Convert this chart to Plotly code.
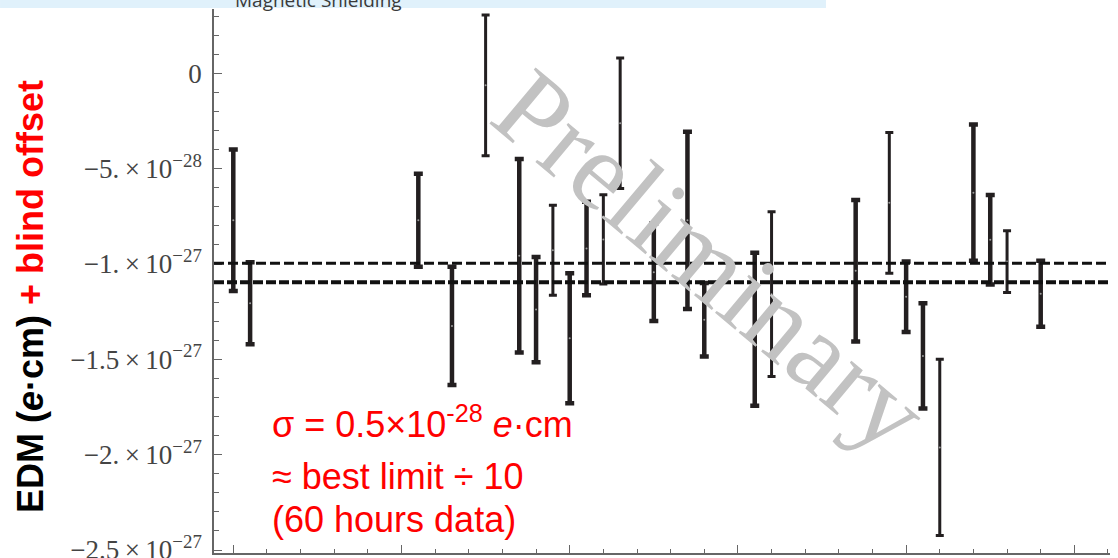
import plotly.graph_objects as go

SCALE = 1e-27  # values below are in units of 1e-27 e·cm

# Group A (heavier bars)
xa = [0, 1, 11, 13, 17, 18, 20, 21, 25, 27, 28, 31, 37, 40, 41, 44, 45, 48]
va = [-0.771, -1.206, -0.771, -1.325, -0.957, -1.239, -1.389, -0.919, -1.043,
      -0.771, -1.292, -1.342, -1.036, -1.172, -1.482, -0.626, -0.873, -1.156]
ea = [0.371, 0.215, 0.244, 0.310, 0.507, 0.276, 0.341, 0.245, 0.256,
      0.465, 0.193, 0.401, 0.371, 0.185, 0.276, 0.357, 0.235, 0.173]

# Group B (lighter bars)
xb = [15, 19, 22, 23, 32, 39, 42, 46]
vb = [-0.063, -0.928, -0.871, -0.262, -1.158, -0.679, -1.962, -0.987]
eb = [0.369, 0.236, 0.234, 0.342, 0.432, 0.369, 0.462, 0.162]

mean_val = -1.046
sigma_val = 0.05

ytick_vals = [0, -0.5, -1.0, -1.5, -2.0, -2.5]
ytick_text = ["0",
              "−5.\u2009×\u200910<sup>−28</sup>",
              "−1.\u2009×\u200910<sup>−27</sup>",
              "−1.5\u2009×\u200910<sup>−27</sup>",
              "−2.\u2009×\u200910<sup>−27</sup>",
              "−2.5\u2009×\u200910<sup>−27</sup>"]

BAR = "#231f20"

fig = go.Figure()
fig.add_trace(go.Scatter(
    x=xa, y=[v * SCALE for v in va], mode="markers",
    marker=dict(size=2, color="#9a9a9a"),
    error_y=dict(type="data", array=[e * SCALE for e in ea], visible=True,
                 thickness=4.5, width=4.5, color=BAR),
    showlegend=False, hoverinfo="skip"))
fig.add_trace(go.Scatter(
    x=xb, y=[v * SCALE for v in vb], mode="markers",
    marker=dict(size=2, color="#9a9a9a"),
    error_y=dict(type="data", array=[e * SCALE for e in eb], visible=True,
                 thickness=3, width=4, color=BAR),
    showlegend=False, hoverinfo="skip"))

# mean ± sigma dashed lines
fig.add_shape(type="line", xref="paper", x0=0, x1=1, yref="y",
              y0=(mean_val + sigma_val) * SCALE, y1=(mean_val + sigma_val) * SCALE,
              line=dict(color="#111111", width=3, dash="10px,4px"))
fig.add_shape(type="line", xref="paper", x0=0, x1=1, yref="y",
              y0=(mean_val - sigma_val) * SCALE, y1=(mean_val - sigma_val) * SCALE,
              line=dict(color="#111111", width=4, dash="10px,3px"))

# top banner (cut-off slide header)
fig.add_shape(type="rect", xref="paper", yref="paper",
              x0=-0.2388, x1=0.683, y0=1.0018, y1=1.03,
              fillcolor="#e0f1fb", line=dict(width=0), layer="above")

fig.add_annotation(text="Magnetic Shielding", xref="paper", yref="paper",
                   x=0.1161, y=1.0165, xanchor="center", yanchor="middle",
                   showarrow=False, font=dict(family="Open Sans", size=19, color="#3a3a3a"))

# watermark
fig.add_annotation(text="Preliminary", xref="paper", yref="paper",
                   x=0.5547, y=0.5368, xanchor="center", yanchor="middle",
                   textangle=40, showarrow=False,
                   font=dict(family="Liberation Serif", size=111, color="#c2c2c2"))

# y-axis title
fig.add_annotation(
    text="<b>EDM (<i>e</i>·cm) <span style='color:#ff0000'>+ blind offset</span></b>",
    xref="paper", yref="paper", x=-0.2042, y=0.4706,
    xanchor="center", yanchor="middle", textangle=-90, showarrow=False,
    font=dict(family="Liberation Sans", size=36, color="#000000"))

# red notes
red_font = dict(family="Liberation Sans", size=36, color="#ff0000")
fig.add_annotation(text="σ = 0.5×10<sup>-28</sup> <i>e</i>·cm", xref="paper", yref="paper",
                   x=0.0625, y=(553 - 422) / 544, xanchor="left", yanchor="middle",
                   showarrow=False, font=red_font)
fig.add_annotation(text="≈ best limit ÷ 10", xref="paper", yref="paper",
                   x=0.0625, y=(553 - 476) / 544, xanchor="left", yanchor="middle",
                   showarrow=False, font=red_font)
fig.add_annotation(text="(60 hours data)", xref="paper", yref="paper",
                   x=0.0625, y=(553 - 519) / 544, xanchor="left", yanchor="middle",
                   showarrow=False, font=red_font)

AX = "#666666"
fig.update_layout(
    width=1118, height=558,
    margin=dict(l=214, r=8, t=9, b=5, autoexpand=False),
    paper_bgcolor="white", plot_bgcolor="white",
    xaxis=dict(range=[-1.147, 52.12], showline=True, linecolor=AX, linewidth=1.5,
               automargin=False,
               ticks="inside", tick0=0, dtick=10, ticklen=8, tickcolor=AX, tickwidth=1.2,
               minor=dict(ticks="inside", tick0=0, dtick=2, ticklen=4, tickcolor=AX, showgrid=False),
               showticklabels=False, showgrid=False, zeroline=False),
    yaxis=dict(range=[-2.5155 * SCALE, 0.3372 * SCALE], showline=True, linecolor=AX, linewidth=1.5,
               automargin=False,
               ticks="inside", tickmode="array",
               tickvals=[v * SCALE for v in ytick_vals], ticktext=ytick_text,
               ticklen=8, tickcolor=AX, tickwidth=1.2,
               minor=dict(ticks="inside", tickmode="linear", tick0=0, dtick=0.1 * SCALE,
                          ticklen=5, tickcolor=AX, showgrid=False),
               tickfont=dict(family="Liberation Serif", size=27, color="#444444"),
               ticklabelstandoff=5, ticklabeloverflow="allow",
               showgrid=False, zeroline=False),
)

fig.write_html("out.html", config={"displayModeBar": False},
               post_script="document.body.style.margin='0px';document.body.style.overflow='hidden';")
